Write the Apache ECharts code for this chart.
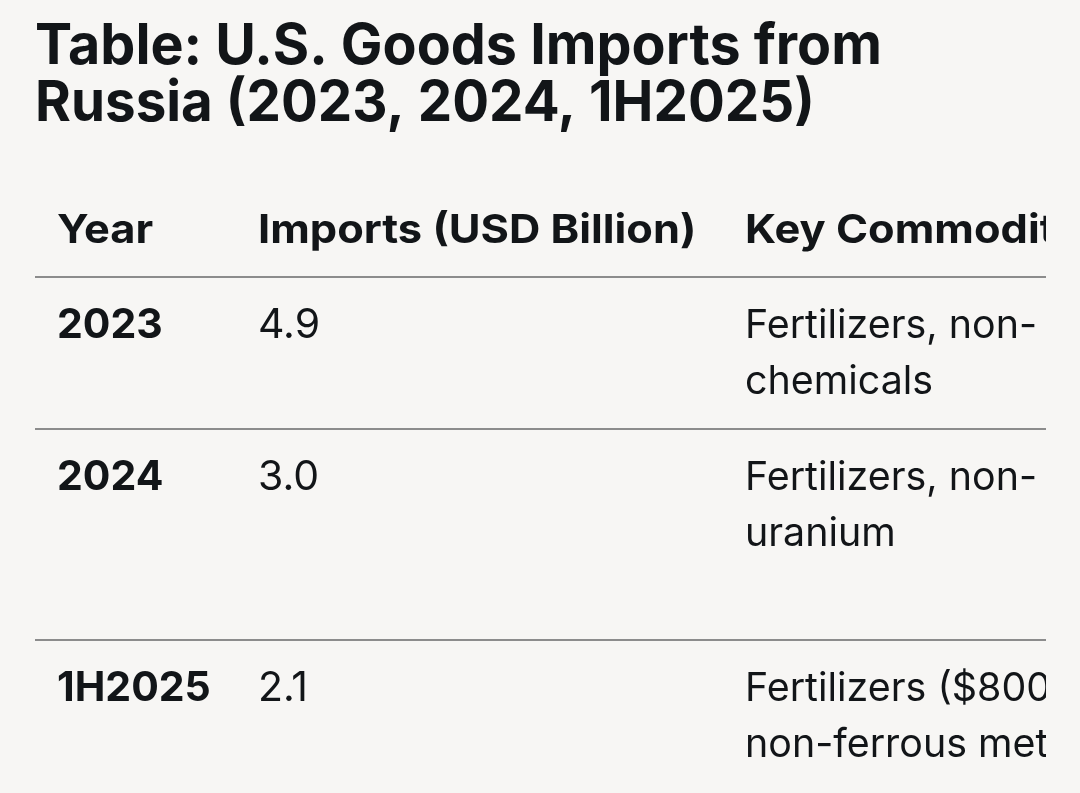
<!DOCTYPE html>
<html>
<head>
<meta charset="utf-8">
<script src="https://cdn.jsdelivr.net/npm/echarts@6/dist/echarts.min.js"></script>
<style>
html, body { margin: 0; padding: 0; background: #f7f6f4; overflow: hidden; }
#table { width: 1046px; height: 793px; }
</style>
</head>
<body>
<div id="table"></div>
<script>
var titleLines = ['Table: U.S. Goods Imports from', 'Russia (2023, 2024, 1H2025)'];
var headers = ['Year', 'Imports (USD Billion)', 'Key Commodities'];
var years = ['2023', '2024', '1H2025'];
var imports = [4.9, 3.0, 2.1];
var commodities = [
    ['Fertilizers, non-', 'chemicals'],
    ['Fertilizers, non-', 'uranium'],
    ['Fertilizers ($800 million),', 'non-ferrous metals']
];

function showTable() {
    var chart = echarts.init(document.getElementById('table'));
    var ink = '#121518';
    var colX = [57, 258, 745];
    var rowTops = [277, 429, 640];
    var lineGap = 56;
    var titleStretch = [0.993, 0.977];
    var els = [];

    // text placed by its baseline, optionally stretched sideways
    function text(str, x, baseline, size, weight, sx) {
        els.push({
            type: 'text',
            x: x,
            y: baseline - size * 0.34,
            scaleX: sx || 1,
            style: {
                text: str,
                x: 0,
                y: 0,
                fill: ink,
                font: weight + ' ' + size + 'px Inter',
                verticalAlign: 'middle'
            }
        });
    }
    function rule(y) {
        els.push({
            type: 'line',
            shape: { x1: 35, y1: y, x2: 1080, y2: y },
            style: { stroke: '#8c8c8c', lineWidth: 2 }
        });
    }

    titleLines.forEach(function (t, i) {
        text(t, 35, 66 + i * 57, 56, 'bold', titleStretch[i]);
    });
    headers.forEach(function (h, i) {
        text(h, colX[i], 245, 40, 'bold', 1.085);
    });
    rowTops.forEach(function (top, r) {
        rule(top);
        var base = top + 63;
        text(years[r], colX[0], base, 41, 'bold');
        text(imports[r].toFixed(1), colX[1], base, 41, 'normal');
        commodities[r].forEach(function (line, k) {
            text(line, colX[2], base + k * lineGap, 39, 'normal', 1.01);
        });
    });

    chart.setOption({
        backgroundColor: '#f7f6f4',
        graphic: { elements: els }
    });
}
showTable();
</script>
</body>
</html>
